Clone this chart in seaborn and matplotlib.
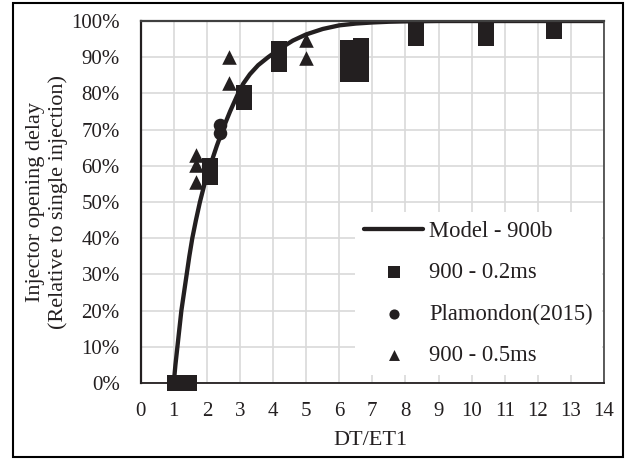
import matplotlib
matplotlib.use("Agg")
import matplotlib.pyplot as plt
import seaborn as sns
import pandas as pd
from matplotlib.ticker import MultipleLocator, PercentFormatter
from matplotlib.patches import Rectangle

# ---- data ----
model_x = [1.0, 1.05, 1.11, 1.17, 1.23, 1.31, 1.39, 1.47, 1.56, 1.67, 1.79, 1.93,
           2.1, 2.3, 2.5, 2.7, 2.92, 3.1, 3.3, 3.55, 3.85, 4.2, 4.6, 5.0, 5.5, 6.0,
           6.5, 7.0, 7.5, 8.0, 9.0, 10.0, 14.0]
model_y = [0, 5, 10, 15, 20, 25, 30, 35, 40, 45, 50, 55,
           60, 65.5, 70.5, 75, 79.5, 82.7, 85.3, 87.8, 90, 92.3, 94.6, 96.3, 97.8, 98.8,
           99.3, 99.6, 99.8, 99.9, 100, 100, 100]

sq_x = [1.04, 1.25, 1.46, 2.08, 2.08, 3.12, 3.12, 4.17, 4.17,
        6.25, 6.25, 6.25, 6.67, 6.67, 6.67, 8.33, 8.33, 10.42, 10.42, 12.5]
sq_y = [0, 0, 0, 60, 57, 80.2, 77.7, 92.4, 88,
        92.5, 89, 85.3, 93, 89.2, 85.5, 97.3, 95.2, 97.3, 95.2, 97.3]

pl_x = [2.4, 2.4]
pl_y = [71.3, 69.0]

tr_x = [1.67, 1.67, 1.67, 2.67, 2.67, 5.0, 5.0]
tr_y = [63, 60.2, 55.6, 90.1, 82.8, 94.8, 89.9]

labels = ["Model - 900b", "900 - 0.2ms", "Plamondon(2015)", "900 - 0.5ms"]
x_label = "DT/ET1"
y_label = "Injector opening delay\n(Relative to single injection)"

# ---- style ----
sns.set_style("white")
plt.rcParams["font.family"] = ["Liberation Serif", "DejaVu Serif"]

ink = "#231f20"

fig = plt.figure(figsize=(6.28, 4.59), dpi=100)
ax = fig.add_axes([0.224, 0.1656, 0.9618 - 0.224, 0.9542 - 0.1656])

sns.lineplot(x=model_x, y=model_y, ax=ax, color=ink, linewidth=3.1,
             label=labels[0], zorder=2.5, sort=False)
sns.scatterplot(x=sq_x, y=sq_y, ax=ax, marker="s", s=117, color=ink,
                linewidth=0, label=labels[1], zorder=3, clip_on=False)
sns.scatterplot(x=pl_x, y=pl_y, ax=ax, marker="o", s=95, color=ink,
                linewidth=0, label=labels[2], zorder=3, clip_on=False)
sns.scatterplot(x=tr_x, y=tr_y, ax=ax, marker="^", s=110, color=ink,
                linewidth=0, label=labels[3], zorder=3, clip_on=False)

ax.set_xlim(0, 14)
ax.set_ylim(0, 100)
ax.xaxis.set_major_locator(MultipleLocator(1))
ax.xaxis.set_minor_locator(MultipleLocator(0.2))
ax.yaxis.set_major_locator(MultipleLocator(10))
ax.yaxis.set_major_formatter(PercentFormatter(100, decimals=0))

ax.grid(True, which="major", color="#d9d9d9", linewidth=1.2)
ax.set_axisbelow(True)

ax.tick_params(axis="x", which="major", direction="inout", length=8, width=1.1,
               color=ink, pad=10, labelsize=15, labelcolor=ink)
ax.tick_params(axis="x", which="minor", direction="inout", length=3.6, width=1.0,
               color=ink)
ax.tick_params(axis="y", which="major", length=0, pad=15, labelsize=15,
               labelcolor=ink)

for side, col, lw in [("left", ink, 1.6), ("bottom", ink, 1.3),
                      ("top", "#404040", 1.6), ("right", "#404040", 1.2)]:
    ax.spines[side].set_visible(True)
    ax.spines[side].set_color(col)
    ax.spines[side].set_linewidth(lw)

ax.set_xlabel(x_label, fontsize=16, color=ink)
ax.set_ylabel(y_label, fontsize=16, color=ink, linespacing=1.25)
ax.xaxis.set_label_coords(0.495, -0.133)
ax.yaxis.set_label_coords(-0.157, 0.5)

leg = ax.legend(loc="lower right", bbox_to_anchor=(0.995, 0.021),
                borderaxespad=0, frameon=True, facecolor="white",
                edgecolor="none", framealpha=1, fontsize=16.3,
                handlelength=2.6, handletextpad=0.25, labelspacing=0.9,
                markerscale=0.75, borderpad=0.4)
for t in leg.get_texts():
    t.set_color(ink)

fig.patches.append(Rectangle((0.0202, 0.0037), 0.9925 - 0.0202, 0.9941 - 0.0037,
                             transform=fig.transFigure, fill=False,
                             edgecolor="black", linewidth=1.5, zorder=10))

fig.savefig("out.png", dpi=100)
